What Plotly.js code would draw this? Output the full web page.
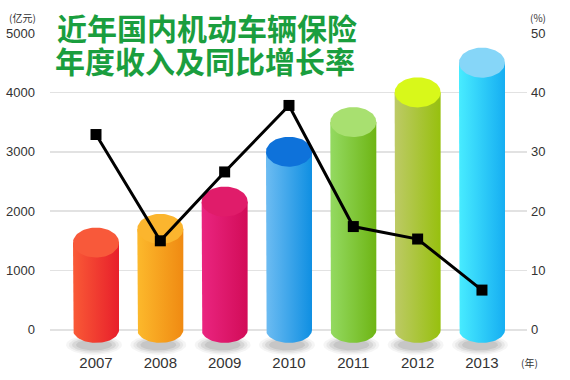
<!DOCTYPE html>
<html>
<head>
<meta charset="utf-8">
<script src="https://cdn.plot.ly/plotly-3.0.1.min.js"></script>
<style>html,body{margin:0;padding:0;background:#fff;}#chart{width:570px;height:380px;}</style>
</head>
<body>
<div id="chart"></div>
<script>
// ---- data ----
var years = ['2007', '2008', '2009', '2010', '2011', '2012', '2013'];
var income = [1470, 1700, 2160, 3000, 3500, 4000, 4500];      // 亿元
var growth = [32.9, 15.0, 26.6, 37.8, 17.4, 15.3, 6.7];       // %
var leftTicks = [0, 1000, 2000, 3000, 4000, 5000];
var rightTicks = [0, 10, 20, 30, 40, 50];

// ---- styles ----
var sideColors = [
  ['#f95a36', '#e81f2b'],
  ['#fcb92c', '#f08a12'],
  ['#ea2580', '#d20c58'],
  ['#6dbcf2', '#0f8fe2'],
  ['#94da62', '#6eb514'],
  ['#bdca66', '#97c00e'],
  ['#48ecff', '#16aef2']
];
var topColors = ['#f8593a', '#fbb52e', '#e01c6a', '#0e72da', '#a8e070', '#d8f81a', '#86d6f8'];

var W = 570, H = 380;
var mL = 50, mR = 43, mT = 33, mB = 24;
var xr = [-0.715, 6.70];
var yr = [-440, 5000];
var y2r = [yr[0] / 100, 50];
var pxX = (xr[1] - xr[0]) / (W - mL - mR);
var pxY = (yr[1] - yr[0]) / (H - mT - mB);

var halfW = 23 * pxX;       // cylinder radius in x units
var topH = 15 * pxY;        // ellipse half height in y units
var botH = 13 * pxY;

var traces = [];
var N = 40;

function ellipse(cx, cy, rx, ry) {
  var xs = [], ys = [];
  for (var i = 0; i <= 2 * N; i++) {
    var t = Math.PI * i / N;
    xs.push(cx + rx * Math.cos(t));
    ys.push(cy + ry * Math.sin(t));
  }
  return {x: xs, y: ys};
}

// shadows
years.forEach(function (yy, i) {
  [[28, 10, 0.04], [25, 8.5, 0.05], [22, 7, 0.07], [18, 5.5, 0.08]].forEach(function (s) {
    var e = ellipse(i - 2 * pxX, -15 * pxY, s[0] * pxX, s[1] * pxY);
    traces.push({type: 'scatter', mode: 'lines', x: e.x, y: e.y, fill: 'toself',
      fillcolor: 'rgba(0,0,0,' + s[2] + ')', line: {width: 0, color: 'rgba(0,0,0,0)'},
      hoverinfo: 'skip', showlegend: false});
  });
});

// cylinder bodies
years.forEach(function (yy, i) {
  var v = income[i];
  var xs = [i - halfW], ys = [v];
  for (var k = 0; k <= N; k++) {
    var t = Math.PI * k / N;
    xs.push(i - halfW * Math.cos(t));
    ys.push(-botH * Math.sin(t));
  }
  xs.push(i + halfW); ys.push(v);
  xs.push(i - halfW); ys.push(v);
  traces.push({type: 'scatter', mode: 'lines', x: xs, y: ys, fill: 'toself',
    fillgradient: {type: 'horizontal', colorscale: [[0, sideColors[i][0]], [1, sideColors[i][1]]]},
    line: {width: 0, color: 'rgba(0,0,0,0)'}, hoverinfo: 'skip', showlegend: false});
});

// cylinder tops
years.forEach(function (yy, i) {
  var e = ellipse(i, income[i], halfW, topH);
  traces.push({type: 'scatter', mode: 'lines', x: e.x, y: e.y, fill: 'toself',
    fillcolor: topColors[i], line: {width: 0, color: 'rgba(0,0,0,0)'},
    hoverinfo: 'skip', showlegend: false});
});

// growth line
traces.push({type: 'scatter', mode: 'lines+markers', x: years.map(function (d, i) { return i; }),
  y: growth, yaxis: 'y2', line: {color: '#000', width: 3},
  marker: {symbol: 'square', size: 11, color: '#000'}, showlegend: false, hoverinfo: 'skip'});

var tickFont = {family: 'Liberation Sans, Arial, sans-serif', size: 13, color: '#333'};
var titleFont = {family: 'Liberation Sans, Noto Sans CJK SC', size: 30, color: '#1a9e3e', weight: 'bold'};

var layout = {
  width: W, height: H,
  margin: {l: mL, r: mR, t: mT, b: mB},
  paper_bgcolor: '#fff', plot_bgcolor: '#fff',
  showlegend: false, hovermode: false,
  title: {text: '近年国内机动车辆保险', x: 57 / W, xanchor: 'left', xref: 'container',
    y: 1 - 19 / H, yanchor: 'top', yref: 'container', font: titleFont},
  xaxis: {range: xr, tickvals: years.map(function (d, i) { return i; }), ticktext: years,
    showgrid: false, zeroline: false, showline: false, ticks: '',
    tickfont: {family: 'Liberation Sans, Arial, sans-serif', size: 15, color: '#333'},
    ticklabelstandoff: -4},
  yaxis: {range: yr, tickvals: leftTicks, showgrid: true, gridcolor: '#e2e2e2', gridwidth: 1.5,
    zeroline: false, showline: false, ticks: '', tickfont: tickFont, ticklabelstandoff: 14},
  yaxis2: {range: y2r, tickvals: rightTicks, overlaying: 'y', side: 'right', showgrid: false,
    zeroline: false, showline: false, ticks: '', tickfont: tickFont, ticklabelstandoff: 3},
  annotations: [
    {text: '年度收入及同比增长率', xref: 'paper', yref: 'paper', x: (53 - mL) / (W - mL - mR),
      xanchor: 'left', y: 1 + (mT - 44) / (H - mT - mB), yanchor: 'top', showarrow: false,
      font: titleFont},
    {text: '(亿元)', xref: 'paper', yref: 'paper', x: (22 - mL) / (W - mL - mR), xanchor: 'center',
      y: 1 + (mT - 17) / (H - mT - mB), yanchor: 'middle', showarrow: false,
      font: {family: 'Noto Sans CJK SC', size: 10, color: '#333'}},
    {text: '(%)', xref: 'paper', yref: 'paper', x: (538 - mL) / (W - mL - mR), xanchor: 'center',
      y: 1 + (mT - 17) / (H - mT - mB), yanchor: 'middle', showarrow: false,
      font: {family: 'Noto Sans CJK SC', size: 10, color: '#333'}},
    {text: '(年)', xref: 'paper', yref: 'paper', x: (529 - mL) / (W - mL - mR), xanchor: 'center',
      y: 1 + (mT - 362) / (H - mT - mB), yanchor: 'middle', showarrow: false,
      font: {family: 'Noto Sans CJK SC', size: 10, color: '#333'}}
  ]
};

Plotly.newPlot('chart', traces, layout, {displayModeBar: false, staticPlot: true});
</script>
</body>
</html>
